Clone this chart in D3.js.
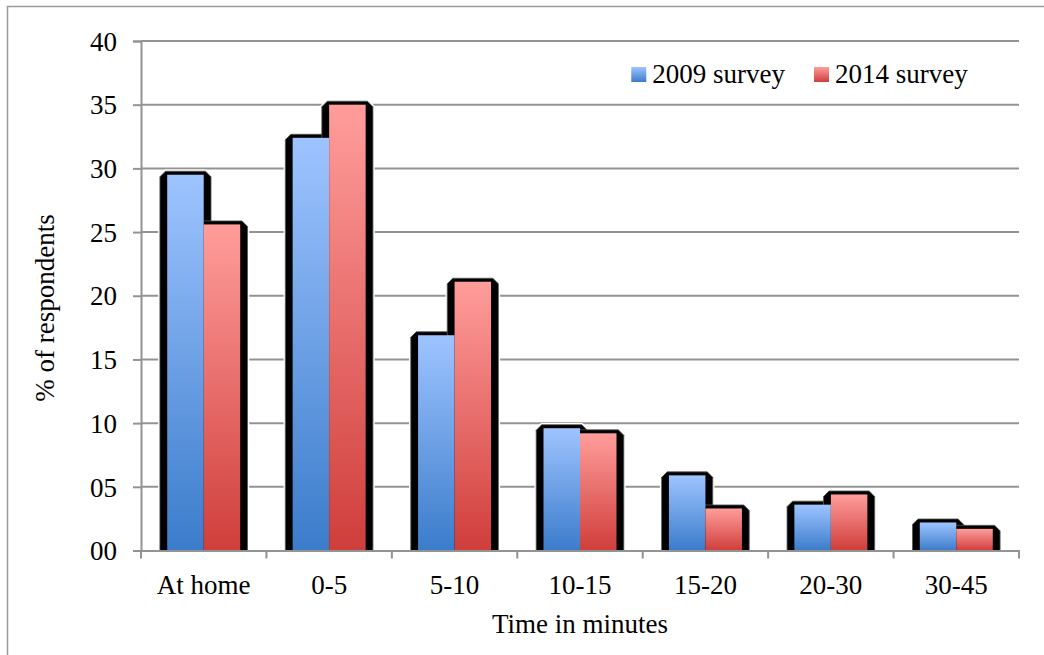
<!DOCTYPE html>
<html>
<head>
<meta charset="utf-8">
<script src="https://cdn.jsdelivr.net/npm/d3@7"></script>
<style>
  html, body { margin: 0; padding: 0; background: #fff; }
  svg { display: block; }
  text { font-family: "Liberation Serif", "Times New Roman", serif; fill: #000; }
</style>
</head>
<body>
<svg id="chart" width="1044" height="655"></svg>
<script>
// Commute time to work, share of respondents per time band
const categories = ["At home", "0-5", "5-10", "10-15", "15-20", "20-30", "30-45"];
const seriesNames = ["2009 survey", "2014 survey"];
const values2009 = [29.5, 32.4, 16.9, 9.6, 5.9, 3.6, 2.2];
const values2014 = [25.6, 35.0, 21.1, 9.2, 3.3, 4.4, 1.7];
const yTicks = [0, 5, 10, 15, 20, 25, 30, 35, 40];

const svg = d3.select("#chart");
const plot = { left: 141, right: 1019, top: 41, bottom: 550.5 };
const fontSize = 27;

// outer frame (runs off the right and bottom edges)
svg.append("rect")
  .attr("x", 7.5).attr("y", 6.5).attr("width", 1200).attr("height", 1000)
  .attr("fill", "none").attr("stroke", "#9a9a9a").attr("stroke-width", 1.5);

// gradients
const defs = svg.append("defs");
const grads = [
  { id: "g2009", top: "#9ec4ff", bottom: "#3b7ccb" },
  { id: "g2014", top: "#ff9d9b", bottom: "#cf3e3b" }
];
grads.forEach(g => {
  const lg = defs.append("linearGradient").attr("id", g.id)
    .attr("x1", 0).attr("y1", 0).attr("x2", 0).attr("y2", 1);
  lg.append("stop").attr("offset", "0%").attr("stop-color", g.top);
  lg.append("stop").attr("offset", "100%").attr("stop-color", g.bottom);
});

const x = d3.scaleBand().domain(categories).range([plot.left, plot.right]).padding(0);
const bw = x.bandwidth();
const xs = d3.scaleBand().domain(seriesNames).range([bw * 0.209, bw * 0.791]).padding(0);
const y = d3.scaleLinear().domain([0, 40]).range([plot.bottom, plot.top]);

// gridlines
svg.append("g").selectAll("line").data(yTicks.filter(d => d > 0)).join("line")
  .attr("x1", plot.left).attr("x2", plot.right)
  .attr("y1", d => y(d)).attr("y2", d => y(d))
  .attr("stroke", "#939393").attr("stroke-width", 2);

// y axis
const yAxis = d3.axisLeft(y).tickValues(yTicks).tickFormat(d3.format("02d")).tickSize(8).tickPadding(16);
const gy = svg.append("g").attr("transform", `translate(${plot.left},0)`).call(yAxis);
gy.select(".domain").attr("stroke", "#939393").attr("stroke-width", 2);
gy.selectAll(".tick line").attr("stroke", "#939393").attr("stroke-width", 2);
gy.selectAll(".tick text").style("font-size", fontSize + "px")
  .style("font-family", "'Liberation Serif', serif").attr("fill", "#000").attr("dy", "0.34em");

// bar data
const bars = [];
categories.forEach((c, i) => {
  bars.push({ cat: c, series: seriesNames[0], value: values2009[i], grad: "g2009" });
  bars.push({ cat: c, series: seriesNames[1], value: values2014[i], grad: "g2014" });
});

// dark bevelled shadow behind each bar
function shadowPath(d) {
  const x0 = x(d.cat) + xs(d.series) - 7.3;
  const x1 = x(d.cat) + xs(d.series) + xs.bandwidth() + 7.3;
  const yt = y(d.value) - 3.5;
  const yb = y(0);
  const c = 5.5;
  return `M${x0},${yb}L${x0},${yt + c}L${x0 + c},${yt}L${x1 - c},${yt}L${x1},${yt + c}L${x1},${yb}Z`;
}
const gs = svg.append("g");
gs.selectAll("path.halo").data(bars).join("path").attr("class", "halo")
  .attr("d", shadowPath).attr("fill", "#fff").attr("stroke", "#fff").attr("stroke-width", 3.5);
gs.selectAll("path.shadow").data(bars).join("path").attr("class", "shadow")
  .attr("d", shadowPath).attr("fill", "#000").attr("stroke", "#555").attr("stroke-width", 0.8);

// bars
svg.append("g").selectAll("rect").data(bars).join("rect")
  .attr("x", d => x(d.cat) + xs(d.series))
  .attr("width", xs.bandwidth())
  .attr("y", d => y(d.value))
  .attr("height", d => y(0) - y(d.value))
  .attr("fill", d => `url(#${d.grad})`);

// x axis
const xAxis = d3.axisBottom(x).tickSize(0).tickPadding(24);
const gx = svg.append("g").attr("transform", `translate(0,${plot.bottom})`).call(xAxis);
gx.select(".domain").attr("stroke", "#939393").attr("stroke-width", 2);
gx.selectAll(".tick text").style("font-size", fontSize + "px")
  .style("font-family", "'Liberation Serif', serif").attr("fill", "#000");
// boundary ticks between categories
const bounds = categories.map(c => x(c)).concat([plot.right]);
svg.append("g").selectAll("line").data(bounds).join("line")
  .attr("x1", d => d).attr("x2", d => d)
  .attr("y1", plot.bottom).attr("y2", plot.bottom + 8)
  .attr("stroke", "#939393").attr("stroke-width", 2);

// axis titles
svg.append("text").attr("x", (plot.left + plot.right) / 2).attr("y", 633)
  .attr("text-anchor", "middle").style("font-size", fontSize + "px").text("Time in minutes");
svg.append("text")
  .attr("transform", `translate(54,308) rotate(-90)`)
  .attr("text-anchor", "middle").style("font-size", fontSize + "px").text("% of respondents");

// legend
const lg = svg.append("g");
lg.append("text").attr("x", 835).attr("y", 83).style("font-size", fontSize + "px").text(seriesNames[1]);
lg.append("rect").attr("x", 814).attr("y", 67).attr("width", 15).attr("height", 15).attr("fill", "url(#g2014)");
const blueText = lg.append("text").attr("x", 785).attr("y", 83).attr("text-anchor", "end")
  .style("font-size", fontSize + "px").text(seriesNames[0]);
const bl = blueText.node().getComputedTextLength();
lg.append("rect").attr("x", 785 - bl - 21).attr("y", 67).attr("width", 15).attr("height", 15).attr("fill", "url(#g2009)");
</script>
</body>
</html>
